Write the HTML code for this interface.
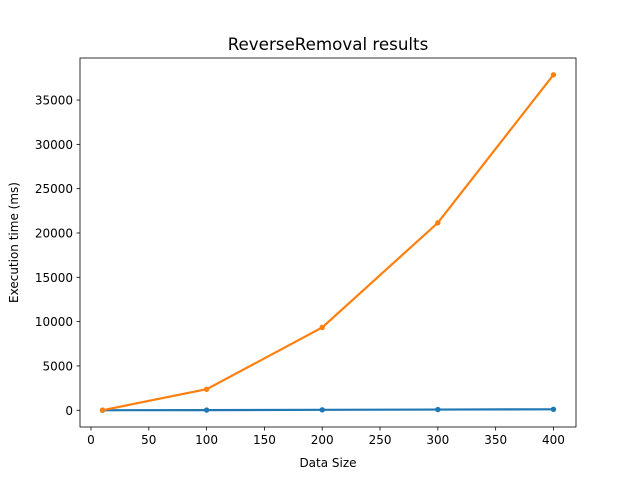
<!DOCTYPE html>
<html><head><meta charset="utf-8"><style>body{margin:0;background:#fff}svg{display:block;font-family:"DejaVu Sans","Liberation Sans",sans-serif}</style></head>
<body>
<svg id="chart" width="640" height="480" xmlns="http://www.w3.org/2000/svg"></svg>
<script>
const categories = [10, 100, 200, 300, 400];
const seriesA = [5, 20, 50, 80, 110];
const seriesB = [10, 2370, 9340, 21150, 37850];
const xTicks = [0, 50, 100, 150, 200, 250, 300, 350, 400];
const yTicks = [0, 5000, 10000, 15000, 20000, 25000, 30000, 35000];

const L=80,R=576,T=58,B=427;
const xmin=-9.5,xmax=419.5;
const allY=seriesA.concat(seriesB);
const dmin=Math.min(...allY),dmax=Math.max(...allY);
const ymin=dmin-0.05*(dmax-dmin),ymax=dmax+0.05*(dmax-dmin);
const xs=v=>L+(v-xmin)/(xmax-xmin)*(R-L);
const ys=v=>B-(v-ymin)/(ymax-ymin)*(B-T);
const svg=document.getElementById('chart');
const NS='http://www.w3.org/2000/svg';
function mk(tag,attrs,parent){const e=document.createElementNS(NS,tag);for(const k in attrs)e.setAttribute(k,attrs[k]);(parent||svg).appendChild(e);return e;}

const frame=mk('rect',{x:L,y:T,width:R-L,height:B-T,fill:'none',stroke:'#000','stroke-width':0.8});



xTicks.forEach(t=>{const x=xs(t);
 const l=mk('line',{x1:x,x2:x,y1:B,y2:B+3.5,stroke:'#000','stroke-width':0.8});
 
 
 const tx=mk('text',{x:x,y:B+17,'font-size':12,'text-anchor':'middle'});tx.textContent=t;
 
 
});
yTicks.forEach(t=>{const y=ys(t);
 const l=mk('line',{x1:L-3.5,x2:L,y1:y,y2:y,stroke:'#000','stroke-width':0.8});
 
 
 const tx=mk('text',{x:L-7,y:y+4.5,'font-size':12,'text-anchor':'end'});tx.textContent=t;
 
 
});

function series(vals,color,name){
 const pts=categories.map((c,i)=>xs(c)+','+ys(vals[i])).join(' ');
 const pl=mk('polyline',{points:pts,fill:'none',stroke:color,'stroke-width':2.2});
 
 
 categories.forEach((c,i)=>{const p=mk('circle',{cx:xs(c),cy:ys(vals[i]),r:2.7,fill:color});
  
  });
}
series(seriesA,'#1f77b4','series-a');
series(seriesB,'#ff7f0e','series-b');

const title=mk('text',{x:(L+R)/2,y:50,'font-size':16.7,'text-anchor':'middle'});title.textContent='ReverseRemoval results';


const xt=mk('text',{x:(L+R)/2,y:467,'font-size':12,'text-anchor':'middle'});xt.textContent='Data Size';


const yt=mk('text',{x:0,y:0,'font-size':12,'text-anchor':'middle',transform:'translate(18,'+((T+B)/2)+') rotate(-90)'});yt.textContent='Execution time (ms)';


</script>
</body></html>
